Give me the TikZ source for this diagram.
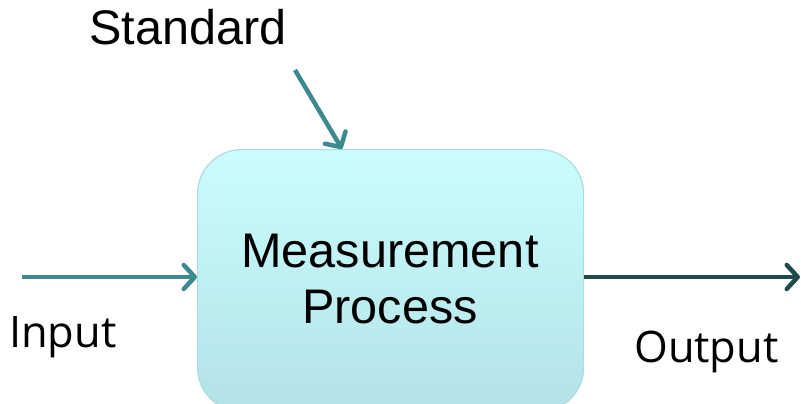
\documentclass[tikz,border=0pt]{standalone}
\usepackage{fontspec}
\setmainfont{Liberation Sans}
\newfontfamily\labelfont{Open Sans}
\usetikzlibrary{arrows.meta}
\definecolor{flowteal}{HTML}{3B8A90}
\definecolor{flowdark}{HTML}{1F4B4E}
\definecolor{boxtop}{HTML}{CBFDFF}
\definecolor{boxbottom}{HTML}{B2E2E5}
\definecolor{boxedge}{HTML}{AEDCDE}
\tikzset{
  flow/.style={line width=4.5pt, -{Straight Barb[length=11pt,width=24pt,round]}},
  procbox/.style={draw=boxedge, line width=1.2pt, rounded corners=44pt,
    top color=boxtop, bottom color=boxbottom, minimum width=386pt,
    minimum height=262pt, inner sep=0pt},
  titletext/.style={font=\fontsize{48.6}{52}\selectfont, inner sep=0pt},
  sidetext/.style={font=\labelfont\fontsize{43.4}{48}\selectfont, inner sep=0pt}
}
\begin{document}
\begin{tikzpicture}[x=1pt,y=-1pt]
  \useasboundingbox (0,0) rectangle (801,404);
  % process box, its lower edge runs off the page
  \node[procbox, anchor=north west] (proc) at (197,149) {};
  \node[titletext, align=center, anchor=base] (ptext) at (390,323)
    {Measurement\\[4pt]Process};
  % labels
  \node[titletext, anchor=base west] (std) at (89,45) {Standard};
  \node[sidetext, anchor=base west] (in) at (9,347) {Input};
  \node[sidetext, anchor=base west] (out) at (634,362) {Output};
  % connector ends
  \coordinate (stdstart) at (295,70);
  \coordinate (instart) at (22,277);
  \coordinate (outend) at (800,277);
  \draw[flow, flowteal] (stdstart) -- (proc.north west -| 342,149);
  \draw[flow, flowteal] (instart) -- (proc.west |- 0,277);
  \draw[flow, flowdark] (proc.east |- 0,277) -- (outend);
\end{tikzpicture}
\end{document}
